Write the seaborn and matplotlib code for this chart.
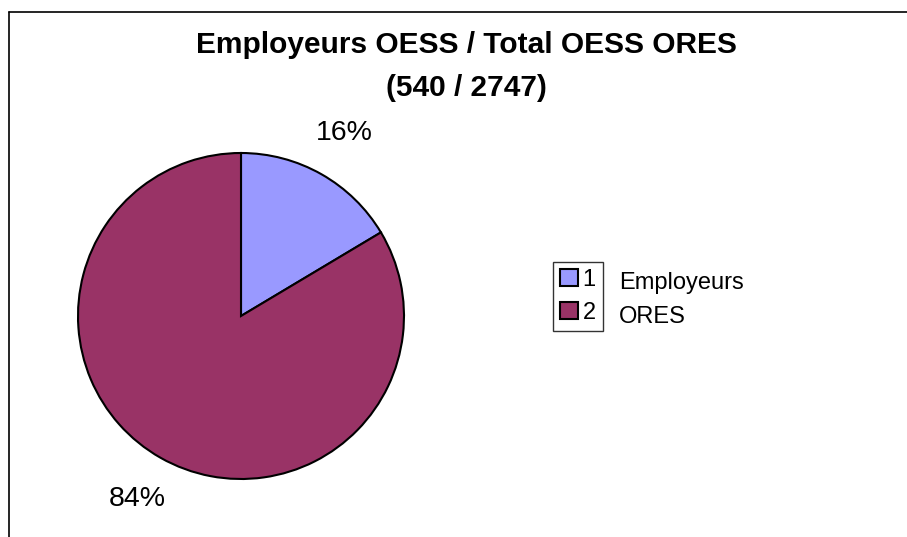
import matplotlib
matplotlib.use("Agg")
import matplotlib.pyplot as plt
import seaborn as sns
from matplotlib.patches import Patch
from matplotlib.lines import Line2D

categories = ["Employeurs", "ORES"]
legend_keys = ["1", "2"]
values = [540, 2747]
colors = ["#9999FF", "#993366"]
title_lines = ["Employeurs OESS / Total OESS ORES", "(540 / 2747)"]

sns.set_theme(style="white")
plt.rcParams['font.family'] = ['Liberation Sans', 'DejaVu Sans']
plt.rcParams['text.color'] = 'black'
plt.rcParams['legend.labelcolor'] = 'black'

W, H = 907, 537
fig = plt.figure(figsize=(W / 100, H / 100), dpi=100)
fig.patch.set_facecolor("white")

def fx(px):
    return px / W

def fy(py):
    return 1 - py / H

# frame lines (top and left)
fig.add_artist(Line2D([fx(9), 1.0], [fy(12), fy(12)], color="black", lw=1.2))
fig.add_artist(Line2D([fx(9), fx(9)], [fy(12), 0.0], color="black", lw=1.2))

# pie axes
cx, cy, r = 241, 316, 163
ax = fig.add_axes([fx(cx - r), fy(cy + r), (2 * r) / W, (2 * r) / H])
wedges, texts, autotexts = ax.pie(
    values, colors=colors, startangle=90, counterclock=False,
    autopct=lambda p: f"{p:.0f}%", pctdistance=1.29,
    wedgeprops=dict(edgecolor="black", linewidth=1.5),
    textprops=dict(fontsize=20.5, color="black"),
)
ax.set_xlim(-1, 1)
ax.set_ylim(-1, 1)
ax.axis("off")

# title
fig.text(fx(466), fy(45), title_lines[0], ha="center", va="center",
         fontsize=21.5, fontweight="bold", color="black")
fig.text(fx(466), fy(88), title_lines[1], ha="center", va="center",
         fontsize=21.5, fontweight="bold", color="black")

# legend
handles = [Patch(facecolor=c, edgecolor="black", linewidth=1.5) for c in colors]
leg = fig.legend(handles, legend_keys, loc="upper left",
                 bbox_to_anchor=(fx(553), fy(262)), frameon=True,
                 fancybox=False, fontsize=17, handlelength=0.75,
                 handleheight=0.75, handletextpad=0.2, borderpad=0.3,
                 labelspacing=0.45, borderaxespad=0, labelcolor="black")
leg.get_frame().set_edgecolor("black")
leg.get_frame().set_linewidth(1.0)

for name, ypx in zip(categories, [283, 317]):
    fig.text(fx(619), fy(ypx), name, ha="left", va="center", fontsize=17,
             color="black")

fig.savefig("out.png", dpi=100, facecolor="white")
